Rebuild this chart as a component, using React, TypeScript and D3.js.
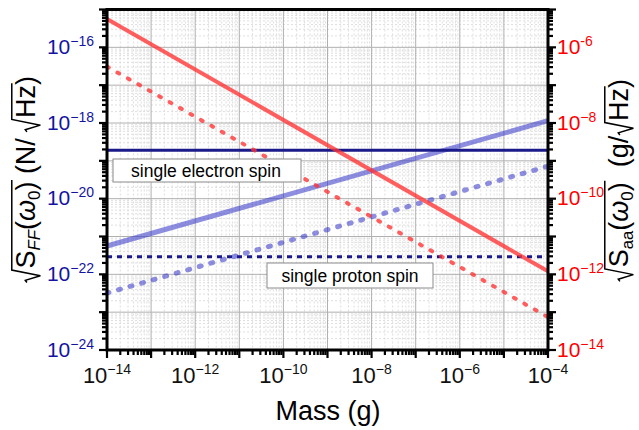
import React, { useLayoutEffect, useRef, useState } from 'react';
import * as d3 from 'd3';

// ---- data ----
const massEnds = [1e-14, 1e-4];
// acceleration noise (right axis, g/√Hz)
const accelSolid = [5.6e-6, 1.2e-12];
const accelDotted = [3.1e-7, 7.4e-14];
// force noise (left axis, N/√Hz)
const forceSolid = [5.6e-22, 1.15e-18];
const forceDotted = [3.2e-23, 7.2e-20];
const electronSpin = [1.9e-19, 1.9e-19];
const protonSpin = [2.9e-22, 2.9e-22];

const xTickVals = [1e-14, 1e-12, 1e-10, 1e-8, 1e-6, 1e-4];
const xTickLabels = ['\u221214', '\u221212', '\u221210', '\u22128', '\u22126', '\u22124'];
const leftTickVals = [1e-16, 1e-18, 1e-20, 1e-22, 1e-24];
const leftTickLabels = ['\u221216', '\u221218', '\u221220', '\u221222', '\u221224'];
const rightTickVals = [1e-6, 1e-8, 1e-10, 1e-12, 1e-14];
const rightTickLabels = ['-6', '\u22128', '\u221210', '\u221212', '\u221214'];

const W = 639, H = 430;
const FONT = 'Arial, "Liberation Sans", sans-serif';
const x = d3.scaleLog().domain([1e-14, 1e-4]).range([107, 548]);
const yL = d3.scaleLog().domain([1e-24, 1e-15]).range([350, 9.5]);
const yR = d3.scaleLog().domain([1e-14, 1e-5]).range([350, 9.5]);

const NAVY = '#1a1a8a';
const LABEL_NAVY = '#1414a0';

function minorVals(lo: number, hi: number) {
  const out: number[] = [];
  for (let e = lo; e < hi; e++) {
    for (let k = 2; k <= 9; k++) out.push(k * Math.pow(10, e));
  }
  return out;
}
function decades(lo: number, hi: number) {
  const out: number[] = [];
  for (let e = lo; e <= hi; e++) out.push(Math.pow(10, e));
  return out;
}

type Seg = { t: string; sub?: boolean; italic?: boolean; g?: number };

function RadTitle({ cx, cy, size, segs }: { cx: number; cy: number; size: number; segs: Seg[] }) {
  const refs = useRef<(SVGTSpanElement | null)[]>([]);
  const [rads, setRads] = useState<{ x0: number; x1: number }[]>([]);
  useLayoutEffect(() => {
    const groups: Record<number, { first: number; last: number }> = {};
    segs.forEach((s, i) => {
      if (s.g === undefined) return;
      if (!groups[s.g]) groups[s.g] = { first: i, last: i };
      groups[s.g].last = i;
    });
    const res: { x0: number; x1: number }[] = [];
    Object.values(groups).forEach(({ first, last }) => {
      const a = refs.current[first];
      const b = refs.current[last];
      if (!a || !b) return;
      const x0 = a.getStartPositionOfChar(0).x;
      const n = b.getNumberOfChars();
      const x1 = b.getEndPositionOfChar(n - 1).x;
      res.push({ x0, x1 });
    });
    setRads(res);
  }, []);
  let cur = 0;
  const subSize = size * 0.62;
  const subShift = size * 0.2;
  const top = -size * 0.86;
  return (
    <g transform={`translate(${cx},${cy}) rotate(-90)`}>
      <text textAnchor="middle" fontSize={size} fontFamily={FONT} fill="#000">
        {segs.map((s, i) => {
          const target = s.sub ? subShift : 0;
          const dy = target - cur;
          cur = target;
          const firstOfGroup = s.g !== undefined && segs.findIndex((q) => q.g === s.g) === i;
          return (
            <tspan
              key={i}
              ref={(el) => { refs.current[i] = el; }}
              fontSize={s.sub ? subSize : undefined}
              fontStyle={s.italic ? 'italic' : undefined}
              dy={dy !== 0 ? dy : undefined}
              dx={firstOfGroup ? size * 0.55 : undefined}
            >
              {s.t}
            </tspan>
          );
        })}
      </text>
      {rads.map((r, i) => (
        <path
          key={i}
          d={`M${r.x0 - size * 0.52},${-size * 0.3} L${r.x0 - size * 0.44},${-size * 0.36} L${r.x0 - size * 0.27},${size * 0.2} L${r.x0 - size * 0.06},${top} L${r.x1 + size * 0.06},${top}`}
          fill="none"
          stroke="#000"
          strokeWidth={1.5}
          strokeLinejoin="miter"
        />
      ))}
    </g>
  );
}

export default function App() {
  const xMinor = minorVals(-14, -4);
  const xMajor = decades(-14, -4);
  const yMinor = minorVals(-24, -15);
  const yMajor = decades(-24, -15);
  const yRMinor = minorVals(-14, -5);
  const yRMajor = decades(-14, -5);

  const pts = (ys: number[]) => massEnds.map((m, i) => [m, ys[i]] as [number, number]);
  const lineL = d3.line<[number, number]>().x((d) => x(d[0])).y((d) => yL(d[1]));
  const lineR = d3.line<[number, number]>().x((d) => x(d[0])).y((d) => yR(d[1]));

  const [x0, x1] = x.range();
  const yTop = yL.range()[1];
  const yBot = yL.range()[0];

  return (
    <svg width={W} height={H} style={{ position: 'absolute', left: 0, top: 0, background: '#fff' }} fontFamily={FONT}>
      <rect x={0} y={0} width={W} height={H} fill="#fff" />
      {/* minor grid */}
      <g stroke="#d6d6d6" strokeWidth={0.8} strokeDasharray="2,2">
        {xMinor.map((v, i) => (
          <line key={'xm' + i} x1={x(v)} x2={x(v)} y1={yTop} y2={yBot} />
        ))}
        {yMinor.map((v, i) => (
          <line key={'ym' + i} x1={x0} x2={x1} y1={yL(v)} y2={yL(v)} />
        ))}
      </g>
      {/* major grid */}
      <g stroke="#b0b0b0" strokeWidth={1}>
        {xMajor.map((v, i) => (
          <line key={'xM' + i} x1={x(v)} x2={x(v)} y1={yTop} y2={yBot} />
        ))}
        {yMajor.map((v, i) => (
          <line key={'yM' + i} x1={x0} x2={x1} y1={yL(v)} y2={yL(v)} />
        ))}
      </g>

      {/* data lines */}
      <path d={lineL(pts(forceSolid)) || ''} stroke="rgb(50,50,200)" strokeOpacity={0.55} strokeWidth={5} fill="none" />
      <path d={lineL(pts(forceDotted)) || ''} stroke="rgb(50,50,200)" strokeOpacity={0.55} strokeWidth={5} strokeDasharray="2,10" strokeLinecap="round" fill="none" />
      <path d={lineL(pts(electronSpin)) || ''} stroke={NAVY} strokeWidth={3} fill="none" />
      <path d={lineL(pts(protonSpin)) || ''} stroke={NAVY} strokeWidth={3} strokeDasharray="5,5" fill="none" />
      <path d={lineR(pts(accelSolid)) || ''} stroke="rgb(255,50,50)" strokeOpacity={0.78} strokeWidth={4} fill="none" />
      <path d={lineR(pts(accelDotted)) || ''} stroke="rgb(255,50,50)" strokeOpacity={0.78} strokeWidth={4} strokeDasharray="2,10" strokeLinecap="round" fill="none" />

      {/* annotation boxes */}
      <g fontSize={17.5} fill="#000">
        <rect x={113} y={159} width={188} height={23} fill="#fff" stroke="#8a8a8a" strokeWidth={1} />
        <text x={206} y={176.5} textAnchor="middle">single electron spin</text>
        <rect x={267} y={263} width={166} height={25} fill="#fff" stroke="#8a8a8a" strokeWidth={1} />
        <text x={350} y={281.5} textAnchor="middle">single proton spin</text>
      </g>

      {/* ticks */}
      <g stroke="#000" strokeWidth={2.2}>
        {xMajor.map((v, i) => (
          <line key={'xt' + i} x1={x(v)} x2={x(v)} y1={yBot} y2={yBot + 8} />
        ))}
        {xMinor.map((v, i) => (
          <line key={'xtm' + i} x1={x(v)} x2={x(v)} y1={yBot} y2={yBot + 5} />
        ))}
        {yMajor.map((v, i) => (
          <line key={'yt' + i} x1={x0} x2={x0 - 8} y1={yL(v)} y2={yL(v)} />
        ))}
        {yMinor.map((v, i) => (
          <line key={'ytm' + i} x1={x0} x2={x0 - 5} y1={yL(v)} y2={yL(v)} />
        ))}
        {yRMajor.map((v, i) => (
          <line key={'yrt' + i} x1={x1} x2={x1 + 8} y1={yR(v)} y2={yR(v)} />
        ))}
        {yRMinor.map((v, i) => (
          <line key={'yrtm' + i} x1={x1} x2={x1 + 5} y1={yR(v)} y2={yR(v)} />
        ))}
      </g>
      {/* frame */}
      <rect x={x0} y={yTop} width={x1 - x0} height={yBot - yTop} fill="none" stroke="#000" strokeWidth={3} />

      {/* tick labels */}
      <g fontSize={22} fill="#111">
        {xTickVals.map((v, i) => (
          <text key={'xl' + i} x={x(v)} y={383} textAnchor="middle">
            10<tspan fontSize={14} dy={-9}>{xTickLabels[i]}</tspan>
          </text>
        ))}
      </g>
      <g fontSize={21} fill={LABEL_NAVY}>
        {leftTickVals.map((v, i) => (
          <text key={'ll' + i} x={94} y={yL(v) + 6.5} textAnchor="end">
            10<tspan fontSize={14} dy={-8}>{leftTickLabels[i]}</tspan>
          </text>
        ))}
      </g>
      <g fontSize={21} fill="#ff0000">
        {rightTickVals.map((v, i) => (
          <text key={'rl' + i} x={557} y={yR(v) + 6.5} textAnchor="start">
            10<tspan fontSize={14} dy={-8}>{rightTickLabels[i]}</tspan>
          </text>
        ))}
      </g>

      {/* axis titles */}
      <text x={328} y={420} textAnchor="middle" fontSize={27} fill="#000">Mass (g)</text>
      <RadTitle
        cx={35}
        cy={187}
        size={27}
        segs={[
          { t: 'S', g: 0 },
          { t: 'FF', sub: true, italic: true, g: 0 },
          { t: '(', g: 0 },
          { t: '\u03c9', italic: true, g: 0 },
          { t: '0', sub: true, g: 0 },
          { t: ')', g: 0 },
          { t: '\u00a0(N/\u2009' },
          { t: 'Hz', g: 1 },
          { t: ')' },
        ]}
      />
      <RadTitle
        cx={628}
        cy={188}
        size={27}
        segs={[
          { t: 'S', g: 0 },
          { t: 'aa', sub: true, g: 0 },
          { t: '(', g: 0 },
          { t: '\u03c9', italic: true, g: 0 },
          { t: '0', sub: true, g: 0 },
          { t: ')', g: 0 },
          { t: '\u00a0\u00a0(g/' },
          { t: 'Hz', g: 1 },
          { t: ')' },
        ]}
      />
    </svg>
  );
}
